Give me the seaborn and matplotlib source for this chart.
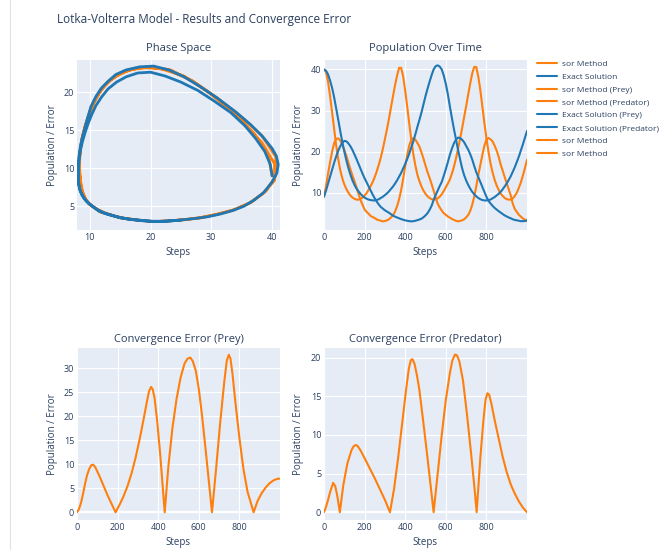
import matplotlib
matplotlib.use("Agg")
import matplotlib.pyplot as plt
import pandas as pd
import seaborn as sns
from matplotlib.lines import Line2D

steps = list(range(0, 1001, 10))

sor_prey = [40.0, 39.4, 37.0, 33.5, 29.5, 25.5, 21.5, 18.2, 15.5, 13.5,
            12.0, 10.9, 10.0, 9.3, 8.8, 8.5, 8.3, 8.3, 8.5, 8.8,
            9.3, 9.9, 10.7, 11.6, 12.6, 13.8, 15.2, 16.8, 18.6, 20.7,
            23.0, 25.4, 28.0, 30.8, 33.5, 36.2, 38.5, 40.4, 40.4, 38.3,
            34.8, 30.9, 26.8, 22.9, 19.4, 16.6, 14.4, 12.8, 11.5, 10.5,
            9.7, 9.1, 8.7, 8.4, 8.3, 8.4, 8.6, 9.0, 9.6, 10.4,
            11.3, 12.2, 13.2, 14.6, 16.3, 18.3, 20.6, 23.0, 25.6, 28.3,
            31.0, 33.8, 36.5, 39.0, 40.6, 40.6, 38.3, 35.0, 31.0, 27.0,
            23.3, 20.0, 17.2, 15.0, 13.2, 11.8, 10.7, 9.8, 9.2, 8.7,
            8.4, 8.3, 8.3, 8.6, 9.2, 10.0, 11.2, 12.5, 14.2, 16.0,
            18.0]
sor_pred = [9.0, 11.6, 14.6, 17.4, 20.0, 22.1, 23.1, 23.2, 22.7, 21.6,
            20.4, 19.0, 17.3, 15.7, 14.2, 12.8, 11.3, 9.7, 8.2, 7.0,
            5.9, 5.3, 4.85, 4.3, 4.05, 3.8, 3.45, 3.3, 3.15, 3.0,
            3.1, 3.25, 3.5, 3.95, 4.5, 5.4, 6.7, 8.4, 10.6, 13.4,
            16.4, 19.2, 21.5, 22.9, 23.3, 22.9, 22.1, 21.2, 19.8, 18.3,
            16.6, 15.0, 13.6, 12.1, 10.5, 8.8, 7.3, 6.4, 5.6, 5.0,
            4.6, 4.2, 3.9, 3.6, 3.35, 3.15, 3.0, 3.1, 3.25, 3.5,
            3.95, 4.55, 5.5, 7.0, 9.0, 11.5, 14.3, 16.7, 19.2, 21.4,
            22.9, 23.3, 23.0, 22.5, 21.5, 20.3, 18.8, 16.9, 15.4, 13.8,
            12.3, 10.8, 9.3, 7.3, 6.0, 5.3, 4.6, 4.15, 3.7, 3.4,
            3.2]
exact_prey = [40.0, 39.7, 38.8, 37.3, 35.5, 33.2, 30.5, 27.8, 25.0, 22.4,
              20.0, 17.9, 16.0, 14.4, 13.0, 11.9, 11.0, 10.3, 9.7, 9.2,
              8.8, 8.5, 8.3, 8.2, 8.1, 8.1, 8.2, 8.4, 8.7, 9.0,
              9.4, 9.8, 10.3, 10.9, 11.5, 12.2, 13.0, 13.9, 14.8, 15.9,
              17.0, 18.2, 19.5, 21.0, 22.5, 24.2, 26.0, 27.7, 29.5, 31.5,
              33.5, 35.3, 37.0, 38.6, 40.0, 40.8, 41.0, 40.7, 40.0, 38.5,
              36.5, 34.0, 31.0, 28.2, 25.5, 23.0, 20.5, 18.2, 16.0, 14.3,
              13.0, 11.9, 11.0, 10.2, 9.6, 9.1, 8.7, 8.4, 8.2, 8.1,
              8.1, 8.2, 8.3, 8.6, 8.9, 9.3, 9.7, 10.2, 10.8, 11.5,
              12.2, 13.1, 14.0, 15.1, 16.2, 17.5, 18.8, 20.3, 21.8, 23.4,
              25.0]
exact_pred = [9.0, 10.5, 12.2, 13.9, 15.6, 17.3, 18.8, 20.2, 21.3, 22.1,
              22.6, 22.5, 22.0, 21.3, 20.4, 19.3, 18.2, 17.0, 15.8, 14.6,
              13.5, 12.5, 11.5, 10.5, 9.5, 8.6, 7.8, 7.1, 6.5, 6.1,
              5.7, 5.4, 5.1, 4.75, 4.4, 4.15, 3.95, 3.75, 3.55, 3.4,
              3.25, 3.15, 3.05, 3.0, 3.05, 3.15, 3.3, 3.45, 3.65, 4.0,
              4.45, 5.0, 5.8, 6.8, 8.2, 9.4, 10.5, 11.6, 12.6, 14.1,
              15.7, 17.4, 19.2, 20.7, 22.0, 22.9, 23.4, 23.3, 22.9, 22.3,
              21.4, 20.5, 19.4, 18.1, 16.5, 15.0, 13.8, 12.6, 11.4, 10.2,
              9.0, 8.0, 7.4, 6.8, 6.3, 5.9, 5.5, 5.15, 4.8, 4.45,
              4.2, 3.95, 3.75, 3.5, 3.35, 3.25, 3.15, 3.05, 3.05, 3.1,
              3.2]

err_prey_steps = [0, 10, 20, 30, 40, 50, 60, 70, 80, 90, 110, 130, 150, 170,
                  190, 210, 230, 250, 270, 290, 310, 330, 345, 355, 365, 373,
                  382, 395, 410, 432, 450, 470, 490, 510, 530, 545, 558, 570,
                  585, 600, 615, 635, 665, 685, 705, 725, 738, 748, 756, 766,
                  780, 800, 820, 840, 870, 890, 910, 930, 950, 970, 990, 1000]
err_prey = [0.0, 0.7, 2.0, 3.9, 6.0, 7.8, 9.0, 9.8, 9.9, 9.4, 7.6, 5.6, 3.6, 1.8,
            0.0, 1.6, 3.4, 5.6, 8.3, 11.6, 15.5, 19.8, 23.2, 25.2, 26.1, 25.6,
            23.8, 19.0, 12.0, 0.0, 9.5, 17.5, 23.5, 28.0, 31.0, 32.0, 32.2, 31.5,
            29.5, 25.7, 20.5, 12.5, 0.0, 9.0, 18.5, 27.0, 31.6, 32.8, 32.0, 28.8,
            23.0, 15.5, 9.0, 4.3, 0.0, 2.4, 4.0, 5.2, 6.1, 6.7, 7.0, 7.0]

err_pred_steps = [0, 10, 20, 30, 45, 55, 65, 78, 95, 115, 135, 145, 155, 165,
                  180, 200, 225, 250, 275, 300, 325, 345, 365, 385, 405, 418,
                  428, 436, 446, 458, 470, 490, 510, 525, 540, 560, 580, 600,
                  620, 632, 645, 655, 667, 685, 705, 725, 740, 752, 770, 785,
                  796, 805, 814, 825, 840, 860, 880, 900, 920, 940, 960, 980, 1000]
err_pred = [0.0, 0.7, 1.6, 2.6, 3.8, 3.4, 2.2, 0.0, 3.5, 6.3, 8.0, 8.5, 8.7, 8.6,
            8.0, 7.0, 5.7, 4.4, 3.0, 1.6, 0.0, 3.0, 7.0, 11.5, 16.0, 18.6,
            19.7, 19.8, 19.2, 17.7, 15.8, 11.5, 7.0, 3.5, 0.0, 5.0, 10.0, 14.5,
            18.0, 19.6, 20.4, 20.3, 19.5, 17.0, 12.5, 7.5, 3.5, 0.0, 7.0, 11.8,
            14.6, 15.4, 15.2, 14.0, 12.0, 9.6, 7.2, 5.2, 3.6, 2.4, 1.4, 0.6, 0.0]

legend_labels = ["sor Method", "Exact Solution", "sor Method (Prey)",
                 "sor Method (Predator)", "Exact Solution (Prey)",
                 "Exact Solution (Predator)", "sor Method", "sor Method"]

ORANGE = "#ff7f0e"
BLUE = "#1f77b4"
BG = "#e5ecf6"
INK = "#2a3f5f"
W, H = 659, 550

sns.set_theme(style="darkgrid", rc={
    "axes.facecolor": BG,
    "grid.color": "white",
    "grid.linewidth": 0.8,
    "axes.edgecolor": BG,
})
plt.rcParams["font.family"] = ["Open Sans", "DejaVu Sans"]

traj = pd.DataFrame({"step": steps, "sor_prey": sor_prey, "sor_pred": sor_pred,
                     "exact_prey": exact_prey, "exact_pred": exact_pred})
eprey = pd.DataFrame({"step": err_prey_steps, "err": err_prey})
epred = pd.DataFrame({"step": err_pred_steps, "err": err_pred})

fig = plt.figure(figsize=(W / 100, H / 100), dpi=100)
fig.patch.set_facecolor("white")


def panel(left, top, right, bottom):
    return fig.add_axes([left / W, 1 - bottom / H, (right - left) / W, (bottom - top) / H])


def style(ax, title, title_gap, xlim, ylim, xticks, yticks, ylab_x):
    h_px = ax.get_position().height * H
    w_px = ax.get_position().width * W
    ax.set_xlim(*xlim)
    ax.set_ylim(*ylim)
    ax.set_xticks(xticks)
    ax.set_yticks(yticks)
    ax.tick_params(length=0, pad=2, labelsize=6.5, colors=INK)
    for s in ax.spines.values():
        s.set_visible(False)
    ax.text(0.5, 1 + title_gap / h_px, title, transform=ax.transAxes,
            ha="center", va="center", fontsize=8, color=INK)
    ax.set_xlabel("Steps", fontsize=7, color=INK, va="center")
    ax.set_ylabel("Population / Error", fontsize=7, color=INK, va="center")
    ax.xaxis.set_label_coords(0.5, -23 / h_px)
    ax.yaxis.set_label_coords(-ylab_x / w_px, 0.5)


# phase space
ax1 = panel(77, 60, 280, 230)
sns.lineplot(data=traj, x="sor_prey", y="sor_pred", sort=False, estimator=None,
             color=ORANGE, lw=2.0, ax=ax1, legend=False)
sns.lineplot(data=traj, x="exact_prey", y="exact_pred", sort=False, estimator=None,
             color=BLUE, lw=2.0, ax=ax1, legend=False)
style(ax1, "Phase Space", 11, (7.9, 41.3), (1.9, 24.2), [10, 20, 30, 40], [5, 10, 15, 20], 25)

# population over time
ax2 = panel(324, 60, 527, 230)
for col, c in [("sor_prey", ORANGE), ("sor_pred", ORANGE),
               ("exact_prey", BLUE), ("exact_pred", BLUE)]:
    sns.lineplot(data=traj, x="step", y=col, color=c, lw=1.5, ax=ax2, legend=False)
style(ax2, "Population Over Time", 11, (0, 1000), (0.9, 42.3),
      [0, 200, 400, 600, 800], [10, 20, 30, 40], 26)

# convergence errors
ax3 = panel(77, 348, 280, 520)
ax3.axhline(0, color="white", lw=1.6, zorder=1)
sns.lineplot(data=eprey, x="step", y="err", color=ORANGE, lw=1.5, ax=ax3, legend=False)
style(ax3, "Convergence Error (Prey)", 8, (0, 1000), (-1.6, 34.2),
      [0, 200, 400, 600, 800], [0, 5, 10, 15, 20, 25, 30], 25)

ax4 = panel(324, 348, 527, 520)
ax4.axhline(0, color="white", lw=1.6, zorder=1)
sns.lineplot(data=epred, x="step", y="err", color=ORANGE, lw=1.5, ax=ax4, legend=False)
style(ax4, "Convergence Error (Predator)", 8, (0, 1000), (-1.0, 21.25),
      [0, 200, 400, 600, 800], [0, 5, 10, 15, 20], 26)

fig.text(57 / W, 1 - 19 / H, "Lotka-Volterra Model - Results and Convergence Error",
         ha="left", va="center", fontsize=8.5, color=INK)

legend_colors = [ORANGE, BLUE, ORANGE, ORANGE, BLUE, BLUE, ORANGE, ORANGE]
handles = [Line2D([], [], color=c, lw=1.5) for c in legend_colors]
fig.legend(handles, legend_labels, loc="upper left",
           bbox_to_anchor=(537 / W, 1 - 60 / H), frameon=False, fontsize=6,
           handlelength=2.4, handletextpad=0.6, labelspacing=0.6,
           labelcolor=INK, borderaxespad=0, borderpad=0)

fig.add_artist(Line2D([10 / W, 10 / W], [0, 1], color="#e2e2e2", lw=0.8,
                      transform=fig.transFigure))

fig.savefig("out.png", dpi=100)
